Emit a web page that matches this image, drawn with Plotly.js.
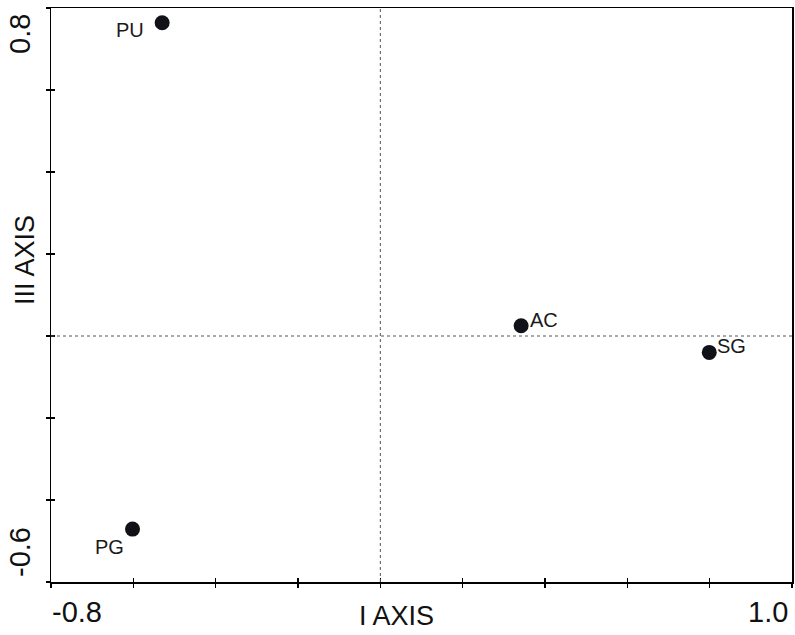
<!DOCTYPE html>
<html>
<head>
<meta charset="utf-8">
<script src="https://cdn.plot.ly/plotly-3.0.1.min.js"></script>
<style>html,body{margin:0;padding:0;background:#fff;}#chart{width:795px;height:635px;}</style>
</head>
<body>
<div id="chart"></div>
<script>
// ---- data ----
var sites = ["PU", "PG", "AC", "SG"];
var axisI = [-0.530, -0.602, 0.342, 0.799];
var axisIII = [0.764, -0.471, 0.025, -0.040];
var xTicks = [-0.8, -0.6, -0.4, -0.2, 0.0, 0.2, 0.4, 0.6, 0.8, 1.0];
var yTicks = [-0.6, -0.4, -0.2, 0.0, 0.2, 0.4, 0.6, 0.8];
var xTickLabels = ["-0.8", "1.0"];
var xTickLabelVals = [-0.8, 1.0];
var yTickLabels = ["-0.6", "0.8"];
var yTickLabelVals = [-0.6, 0.8];
var refLines = [0];
var xTitle = "I AXIS";
var yTitle = "III AXIS";

// ---- styles ----
var FONT = "Liberation Sans, Arial, sans-serif";
var labelStyle = {
  PU: {xanchor: "right", xshift: -16, yshift: -7},
  PG: {xanchor: "right", xshift: -7, yshift: -18},
  AC: {xanchor: "left", xshift: 7, yshift: 6},
  SG: {xanchor: "left", xshift: 6, yshift: 6}
};

var traces = [{
  type: "scatter", mode: "markers",
  x: axisI, y: axisIII, text: sites,
  marker: {size: 15, color: "#111118"},
  hoverinfo: "text", showlegend: false
}, {
  type: "scatter", mode: "markers", x: [], y: [],
  xaxis: "x2", yaxis: "y2", showlegend: false, hoverinfo: "skip"
}];

var annotations = [];
sites.forEach(function (s, i) {
  var st = labelStyle[s];
  annotations.push({
    x: axisI[i], y: axisIII[i], xref: "x", yref: "y", text: s, showarrow: false,
    xanchor: st.xanchor, yanchor: "middle", xshift: st.xshift, yshift: st.yshift,
    font: {family: FONT, size: 20, color: "#1a1a1a"}
  });
});
xTickLabelVals.forEach(function (v, i) {
  annotations.push({
    x: v, y: 0, xref: "x", yref: "paper", text: xTickLabels[i], showarrow: false,
    xanchor: i === 0 ? "left" : "right", yanchor: "middle",
    xshift: i === 0 ? -1 : -2, yshift: -30,
    font: {family: FONT, size: 29, color: "#111"}
  });
});
yTickLabelVals.forEach(function (v, i) {
  annotations.push({
    x: 0, y: v, xref: "paper", yref: "y", text: yTickLabels[i], showarrow: false,
    textangle: -90, xanchor: "center", yanchor: i === 0 ? "bottom" : "top",
    xshift: -31, yshift: i === 0 ? 3 : -4,
    font: {family: FONT, size: 29, color: "#111"}
  });
});
annotations.push({
  x: (396 - 51) / 741, y: 0, xref: "paper", yref: "paper", text: xTitle, showarrow: false,
  xanchor: "center", yanchor: "middle", yshift: -34,
  font: {family: FONT, size: 27, color: "#111"}
});
annotations.push({
  x: 0, y: 0.561, xref: "paper", yref: "paper", text: yTitle, showarrow: false,
  textangle: -90, xanchor: "center", yanchor: "middle", xshift: -26,
  font: {family: FONT, size: 27, color: "#111"}
});

var shapes = [];
refLines.forEach(function (v) {
  shapes.push({type: "line", xref: "x", yref: "paper", x0: v, x1: v, y0: 0, y1: 1,
    line: {color: "#555", width: 1, dash: "dot"}});
  shapes.push({type: "line", xref: "paper", yref: "y", x0: 0, x1: 1, y0: v, y1: v,
    line: {color: "#555", width: 1, dash: "dot"}});
});

var axBase = {showgrid: false, zeroline: false, showticklabels: false,
  ticklen: 4, tickwidth: 1.3, tickcolor: "#000", tickmode: "array"};

var layout = {
  width: 795, height: 635,
  margin: {l: 51, r: 3, t: 8, b: 53, pad: 0},
  paper_bgcolor: "#fff", plot_bgcolor: "#fff",
  xaxis: Object.assign({}, axBase, {range: [-0.8, 1.0], tickvals: xTicks, ticks: "outside",
    showline: true, linecolor: "#000", linewidth: 1.5, mirror: true}),
  yaxis: Object.assign({}, axBase, {range: [-0.6, 0.8], tickvals: yTicks, ticks: "outside",
    showline: true, linecolor: "#000", linewidth: 1.5, mirror: true}),
  xaxis2: Object.assign({}, axBase, {overlaying: "x", matches: "x", range: [-0.8, 1.0],
    tickvals: xTicks, ticks: "inside", showline: false}),
  yaxis2: Object.assign({}, axBase, {overlaying: "y", matches: "y", range: [-0.6, 0.8],
    tickvals: yTicks, ticks: "inside", showline: false}),
  annotations: annotations,
  shapes: shapes,
  showlegend: false
};

Plotly.newPlot("chart", traces, layout, {displayModeBar: false, staticPlot: true});
</script>
</body>
</html>
